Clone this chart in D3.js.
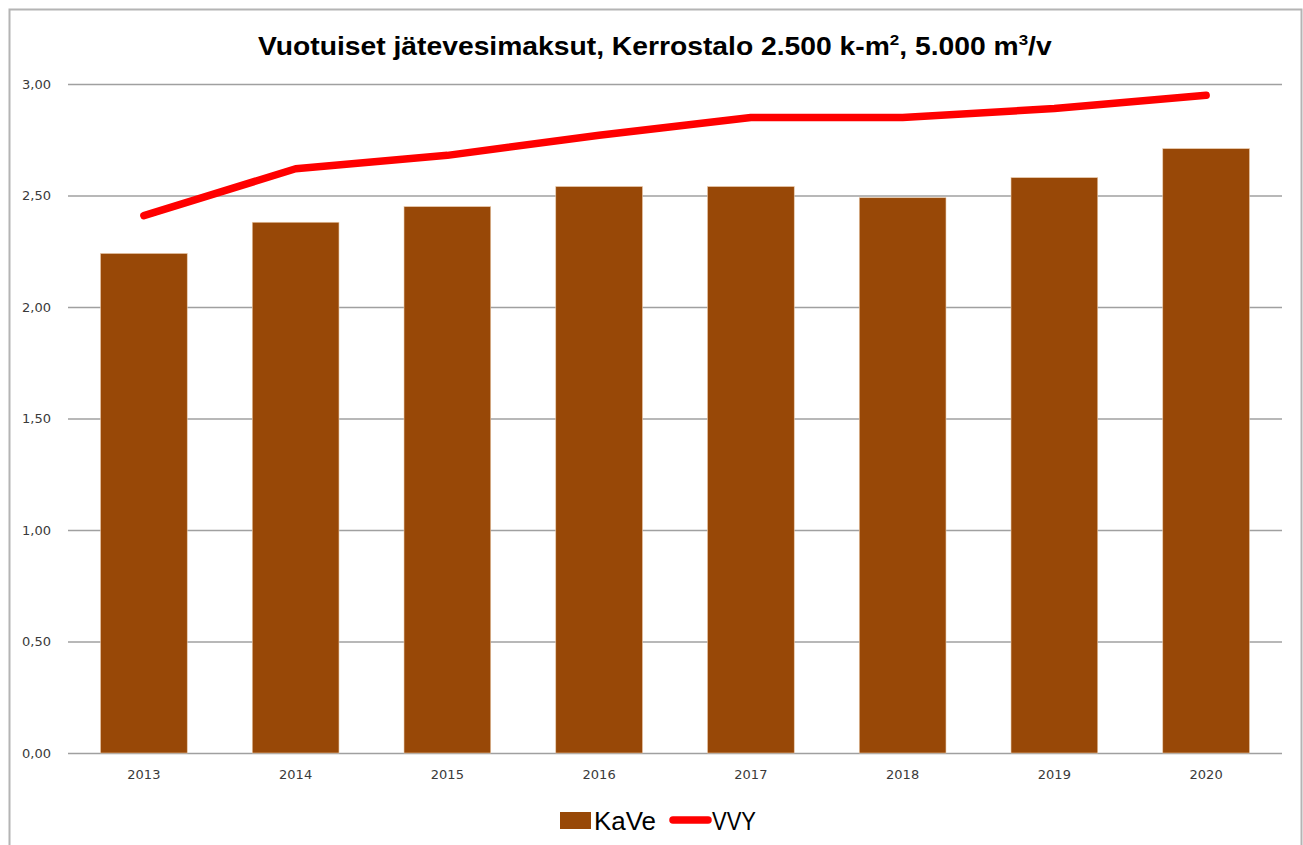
<!DOCTYPE html>
<html>
<head>
<meta charset="utf-8">
<script src="https://cdn.jsdelivr.net/npm/d3@7"></script>
<style>
  body { margin: 0; background: #fff; }
  svg { display: block; }
</style>
</head>
<body>
<div id="chart"></div>
<script>
// data
const years = ["2013", "2014", "2015", "2016", "2017", "2018", "2019", "2020"];
const kave = [2.24, 2.38, 2.45, 2.54, 2.54, 2.49, 2.58, 2.71];
const vvy = [2.41, 2.62, 2.68, 2.77, 2.85, 2.85, 2.89, 2.95];
const yTicks = [0, 0.5, 1, 1.5, 2, 2.5, 3];

const width = 1303, height = 845;
const margin = {top: 84, right: 21, bottom: 92, left: 68};

const svg = d3.select("#chart")
  .append("svg")
  .attr("width", width)
  .attr("height", height);

// chart frame
svg.append("rect")
  .attr("x", 9.5).attr("y", 9.5)
  .attr("width", 1292).attr("height", 900)
  .attr("fill", "#fff")
  .attr("stroke", "#b4b4b4")
  .attr("stroke-width", 2);

const yScale = d3.scaleLinear()
  .domain([0, 3])
  .range([height - margin.bottom, margin.top]);

const xScale = d3.scaleBand()
  .domain(years)
  .range([margin.left, width - margin.right])
  .paddingInner(0.4286)
  .paddingOuter(0.2143);

// gridlines + y labels
const yAxis = svg.append("g")
  .attr("transform", `translate(${margin.left},0)`)
  .call(d3.axisLeft(yScale)
    .tickValues(yTicks)
    .tickSize(-(width - margin.left - margin.right))
    .tickPadding(17)
    .tickFormat(d => d3.format(".2f")(d).replace(".", ",")));
yAxis.select(".domain").remove();
yAxis.selectAll(".tick line").attr("stroke", "#a0a0a0").attr("stroke-width", 1.5);
yAxis.selectAll(".tick text")
  .attr("font-family", "DejaVu Sans, Verdana, sans-serif")
  .attr("font-size", "13px")
  .attr("fill", "#3a3a3a");

// x labels
const xAxis = svg.append("g")
  .attr("transform", `translate(0,${height - margin.bottom})`)
  .call(d3.axisBottom(xScale).tickSize(0).tickPadding(17));
xAxis.select(".domain").remove();
xAxis.selectAll(".tick text")
  .attr("font-family", "DejaVu Sans, Verdana, sans-serif")
  .attr("font-size", "13px")
  .attr("fill", "#3a3a3a");

// bars
svg.append("g")
  .selectAll("rect")
  .data(kave)
  .enter()
  .append("rect")
  .attr("x", (d, i) => xScale(years[i]))
  .attr("y", d => yScale(d))
  .attr("width", xScale.bandwidth())
  .attr("height", d => yScale(0) - yScale(d))
  .attr("fill", "#984807")
  .attr("stroke", "#e9c9a9")
  .attr("stroke-width", 0.6);

// line
const line = d3.line()
  .x((d, i) => xScale(years[i]) + xScale.bandwidth() / 2)
  .y(d => yScale(d));

svg.append("path")
  .datum(vvy)
  .attr("d", line)
  .attr("fill", "none")
  .attr("stroke", "#ff0000")
  .attr("stroke-width", 7.5)
  .attr("stroke-linecap", "round")
  .attr("stroke-linejoin", "round");

// title
const title = svg.append("text")
  .attr("x", 0).attr("y", 0)
  .attr("font-family", "Liberation Sans, Arial, sans-serif")
  .attr("font-weight", "bold")
  .attr("font-size", "25px")
  .attr("fill", "#000");
title.append("tspan").text("Vuotuiset jätevesimaksut, Kerrostalo 2.500 k-m");
title.append("tspan").attr("font-size", "15px").attr("dy", -10).text("2");
title.append("tspan").attr("dy", 10).text(", 5.000 m");
title.append("tspan").attr("font-size", "15px").attr("dy", -10).text("3");
title.append("tspan").attr("dy", 10).text("/v");
const tw = title.node().getComputedTextLength();
const tScale = 794 / tw;
title.attr("transform", `translate(${655 - 794 / 2},55) scale(${tScale},1)`);

// legend
const legend = svg.append("g");
legend.append("rect")
  .attr("x", 560).attr("y", 812)
  .attr("width", 31).attr("height", 17)
  .attr("fill", "#984807");
legend.append("text")
  .attr("x", 594).attr("y", 830)
  .attr("font-family", "Liberation Sans, Arial, sans-serif")
  .attr("font-size", "26px")
  .attr("fill", "#000")
  .attr("textLength", 62)
  .attr("lengthAdjust", "spacingAndGlyphs")
  .text("KaVe");
legend.append("line")
  .attr("x1", 673).attr("x2", 708)
  .attr("y1", 820).attr("y2", 820)
  .attr("stroke", "#ff0000")
  .attr("stroke-width", 7.5)
  .attr("stroke-linecap", "round");
legend.append("text")
  .attr("x", 712).attr("y", 830)
  .attr("font-family", "Liberation Sans, Arial, sans-serif")
  .attr("font-size", "26px")
  .attr("fill", "#000")
  .attr("textLength", 44)
  .attr("lengthAdjust", "spacingAndGlyphs")
  .text("VVY");
</script>
</body>
</html>
